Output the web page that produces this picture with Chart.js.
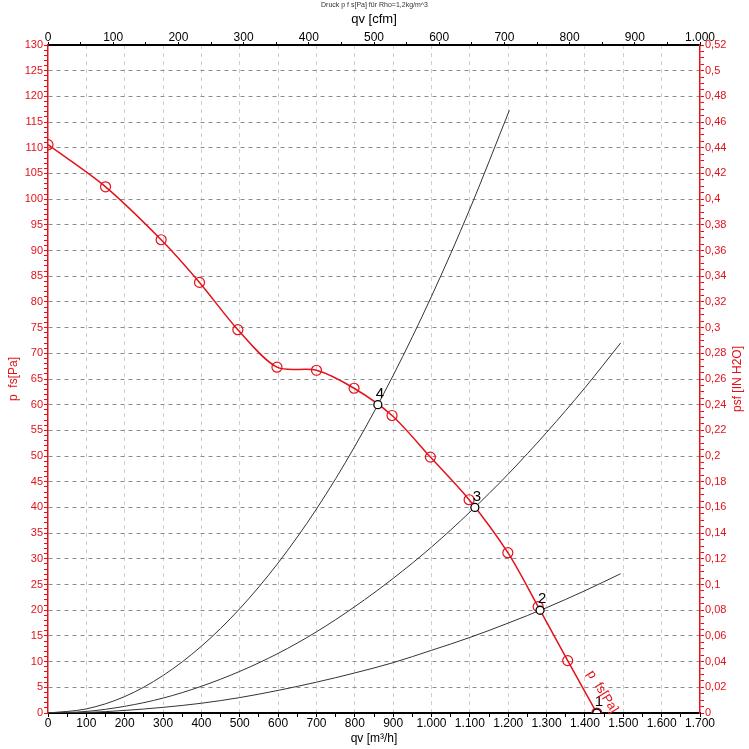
<!DOCTYPE html>
<html>
<head>
<meta charset="utf-8">
<script src="https://cdn.jsdelivr.net/npm/chart.js@4.4.1/dist/chart.umd.min.js"></script>
<style>
body { margin: 0; background: #fff; }
#chart { display: block; }
</style>
</head>
<body>
<canvas id="chart" width="749" height="749"></canvas>
<script>
// Kennlinie p fs [Pa] über qv [m3/h]
const fanQv = [0, 150, 295, 395, 495, 597, 700, 798, 897, 997, 1098, 1199, 1278, 1355, 1431];
const fanP = [110.6, 102.4, 92.1, 83.8, 74.6, 67.3, 66.7, 63.2, 57.9, 49.8, 41.5, 31.2, 20.7, 10.2, 0];

// Anlagenkennlinien
const sysQvSteep = [0, 100, 200, 300, 400, 500, 600, 700, 800, 900, 1000, 1100, 1203];
const sysPSteep = [0, 0.8, 3.2, 7.3, 13, 20.3, 29.2, 39.7, 51.9, 65.7, 81.1, 98.1, 117.3];
const sysQv = [0, 100, 200, 300, 400, 500, 600, 700, 800, 900, 1000, 1100, 1200, 1300, 1400, 1493];
const sysPMid = [0, 0.3, 1.3, 2.9, 5.2, 8.1, 11.6, 15.8, 20.7, 26.2, 32.3, 39.1, 46.5, 54.6, 63.3, 72.0];
const sysPLow = [0, 0.1, 0.5, 1.1, 1.9, 3.0, 4.4, 6.0, 7.8, 9.8, 12.2, 14.7, 17.5, 20.5, 23.8, 27.1];

// Betriebspunkte
const opQv = [1431, 1283, 1113, 860];
const opP = [0, 20, 40, 60];
const opNames = ['1', '2', '3', '4'];

const chartTitle = 'Druck p f s[Pa] für Rho=1,2kg/m^3';
const RED = '#e3121a';
const FONT = '"Liberation Sans", Arial, sans-serif';
const NONE = 'rgba(0,0,0,0)';

const toPoints = (xs, ys) => xs.map((v, i) => ({ x: v, y: ys[i] }));
const fmtDots = v => v >= 1000 ? Math.floor(v / 1000) + '.' + String(v % 1000).padStart(3, '0') : String(v);

const extras = {
    id: 'extras',
    afterDraw(chart) {
        const { ctx } = chart;
        const x = chart.scales.x, y = chart.scales.y, y2 = chart.scales.y2;
        ctx.save();
        ctx.textAlign = 'center';
        ctx.textBaseline = 'middle';

        ctx.font = '7px ' + FONT;
        ctx.fillStyle = '#333';
        ctx.fillText(chartTitle, chart.width / 2, 5);

        // right axis title reads bottom to top
        ctx.save();
        ctx.translate(y2.right - 11, (y2.top + y2.bottom) / 2);
        ctx.rotate(-Math.PI / 2);
        ctx.fillStyle = RED;
        ctx.font = '12px ' + FONT;
        ctx.fillText('psf [IN H2O]', 0, 0);
        ctx.restore();

        ctx.font = '15px ' + FONT;
        ctx.fillStyle = '#000';
        opQv.forEach((q, i) => {
            ctx.fillText(opNames[i], x.getPixelForValue(q) + 2, y.getPixelForValue(opP[i]) - 11);
        });

        // label along the fan curve
        const n = fanQv.length - 2;
        ctx.translate(x.getPixelForValue(fanQv[n]) + 22, y.getPixelForValue(fanP[n]) + 11);
        ctx.rotate(58 * Math.PI / 180);
        ctx.textAlign = 'left';
        ctx.fillStyle = RED;
        ctx.font = '13px ' + FONT;
        ctx.fillText('p  fs[Pa]', 0, 0);
        ctx.restore();
    }
};

const sysStyle = {
    showLine: true, borderColor: '#333', borderWidth: 1, pointRadius: 0,
    cubicInterpolationMode: 'monotone', xAxisID: 'x', yAxisID: 'y'
};

new Chart(document.getElementById('chart'), {
    type: 'scatter',
    data: {
        datasets: [
            {
                label: 'Betriebspunkte', data: toPoints(opQv, opP), showLine: false,
                pointRadius: 4, pointBorderColor: '#000', pointBackgroundColor: '#fff', pointBorderWidth: 1.3,
                xAxisID: 'x', yAxisID: 'y'
            },
            {
                label: 'p fs[Pa]', data: toPoints(fanQv, fanP), showLine: true,
                borderColor: RED, borderWidth: 1.5, tension: 0.3,
                pointRadius: 5, pointBorderColor: RED, pointBackgroundColor: NONE, pointBorderWidth: 1.2,
                xAxisID: 'x', yAxisID: 'y'
            },
            Object.assign({ label: 'A4', data: toPoints(sysQvSteep, sysPSteep) }, sysStyle),
            Object.assign({ label: 'A3', data: toPoints(sysQv, sysPMid) }, sysStyle),
            Object.assign({ label: 'A2', data: toPoints(sysQv, sysPLow) }, sysStyle)
        ]
    },
    options: {
        responsive: false,
        animation: false,
        layout: { padding: 0 },
        plugins: { legend: { display: false }, tooltip: { enabled: false } },
        scales: {
            x: {
                type: 'linear', position: 'bottom', min: 0, max: 1700,
                ticks: {
                    stepSize: 50, autoSkip: false, maxRotation: 0, color: '#000', padding: -1,
                    font: { family: FONT, size: 12 },
                    callback: v => v % 100 === 0 ? fmtDots(v) : ''
                },
                grid: {
                    color: c => (c.tick && c.tick.value % 100 === 0 && c.tick.value > 0 && c.tick.value < 1700) ? '#cfcfcf' : NONE,
                    tickColor: '#000', tickLength: 4
                },
                border: { color: '#000', width: 2, dash: [4, 4] },
                title: { display: true, text: 'qv [m³/h]', color: '#000', font: { family: FONT, size: 12 }, padding: { top: 0, bottom: 3 } },
                afterFit: s => { s.height = 36; }
            },
            x2: {
                type: 'linear', position: 'top', min: 0, max: 1000,
                ticks: {
                    stepSize: 50, autoSkip: false, maxRotation: 0, color: '#000', padding: -3,
                    font: { family: FONT, size: 12 },
                    callback: v => v % 100 === 0 ? fmtDots(v) : ''
                },
                grid: { drawOnChartArea: false, tickColor: '#000', tickLength: 3 },
                border: { color: '#000', width: 2 },
                title: { display: true, text: 'qv [cfm]', color: '#000', font: { family: FONT, size: 13 }, padding: { top: 12, bottom: 0 } },
                afterFit: s => { s.height = 45; }
            },
            y: {
                type: 'linear', position: 'left', min: 0, max: 130,
                ticks: {
                    stepSize: 1, autoSkip: false, color: RED, padding: 1,
                    font: { family: FONT, size: 11 },
                    callback: v => v % 5 === 0 ? String(v) : ''
                },
                grid: {
                    color: c => (c.tick && c.tick.value % 5 === 0 && c.tick.value > 0 && c.tick.value < 130) ? '#8c8c8c' : NONE,
                    tickColor: RED, tickLength: 4
                },
                border: { color: RED, width: 1.5, dash: [4, 4] },
                title: { display: true, text: 'p  fs[Pa]', color: RED, font: { family: FONT, size: 12 }, padding: { top: 6, bottom: 0 } },
                afterFit: s => { s.width = 48; }
            },
            y2: {
                type: 'linear', position: 'right', min: 0, max: 0.52,
                ticks: {
                    stepSize: 0.005, autoSkip: false, color: RED, padding: 1,
                    font: { family: FONT, size: 11 },
                    callback: v => {
                        const m = Math.round(v * 1000);
                        return m % 20 === 0 ? String(m / 1000).replace('.', ',') : '';
                    }
                },
                grid: { drawOnChartArea: false, tickColor: RED, tickLength: 4 },
                border: { color: RED, width: 1.5 },
                afterFit: s => { s.width = 49; }
            }
        }
    },
    plugins: [extras]
});
</script>
</body>
</html>
